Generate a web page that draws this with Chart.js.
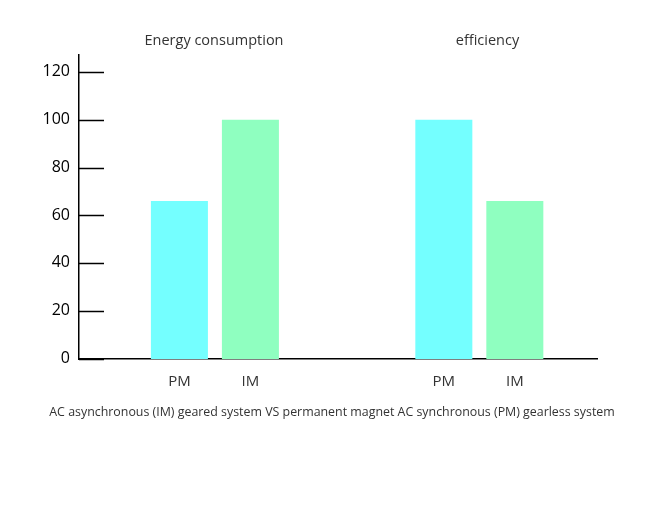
<!DOCTYPE html>
<html>
<head>
<meta charset="utf-8">
<script src="https://cdn.jsdelivr.net/npm/chart.js@4"></script>
<style>
html,body{margin:0;padding:0;background:#fff;}
canvas{display:block;}
</style>
</head>
<body>
<canvas id="c" width="650" height="507"></canvas>
<script>
const categories = ["Energy consumption", "efficiency"];
const seriesNames = ["PM", "IM"];
const pmValues = [66, 100];
const imValues = [100, 66];
const yTicks = [0, 20, 40, 60, 80, 100, 120];
const caption = "AC asynchronous (IM) geared system VS permanent magnet AC synchronous (PM) gearless system";

const FONT = "'Open Sans', 'Noto Sans', sans-serif";

const tickMarks = {
  id: 'tickMarks',
  afterDraw(chart) {
    const ctx = chart.ctx;
    const y = chart.scales.y;
    const area = chart.chartArea;
    ctx.save();
    ctx.strokeStyle = '#000';
    ctx.lineWidth = 1.5;
    y.ticks.forEach(t => {
      const py = Math.round(y.getPixelForValue(t.value)) + 0.5;
      ctx.beginPath();
      ctx.moveTo(area.left, py);
      ctx.lineTo(area.left + 25, py);
      ctx.stroke();
    });
    ctx.fillStyle = '#333';
    ctx.font = "15px " + FONT;
    ctx.textAlign = 'center';
    ctx.textBaseline = 'middle';
    chart.data.datasets.forEach((ds, di) => {
      chart.getDatasetMeta(di).data.forEach(bar => {
        ctx.fillText(ds.label, bar.x, area.bottom + 23);
      });
    });
    ctx.restore();
  }
};

new Chart(document.getElementById('c'), {
  type: 'bar',
  data: {
    datasets: [
      { label: seriesNames[0], data: categories.map((c, i) => ({x: i, y: pmValues[i]})), backgroundColor: '#74FFFF', xAxisID: 'x' },
      { label: seriesNames[1], data: categories.map((c, i) => ({x: i, y: imValues[i]})), backgroundColor: '#8FFFC0', xAxisID: 'x' }
    ]
  },
  options: {
    responsive: false,
    animation: false,
    devicePixelRatio: 1,
    categoryPercentage: 0.537,
    barPercentage: 0.803,
    layout: { padding: { left: 14, right: 0, top: 0, bottom: 87 } },
    plugins: {
      legend: { display: false },
      tooltip: { enabled: false },
      title: {
        display: true,
        position: 'bottom',
        text: caption,
        color: '#333',
        font: { family: FONT, size: 12.4, weight: 'normal' },
        padding: { top: 6, bottom: 0 }
      }
    },
    scales: {
      x: {
        type: 'linear',
        position: 'bottom',
        offset: false,
        min: -0.514,
        max: 1.445,
        afterBuildTicks: s => { s.ticks = categories.map((c, i) => ({ value: i })); },
        afterFit: s => { s.height = 40; },
        ticks: { display: false },
        grid: { display: false, drawTicks: false, offset: false },
        border: { display: true, color: '#000', width: 1.5 }
      },
      xt: {
        type: 'linear',
        position: 'top',
        offset: false,
        min: -0.4936,
        max: 1.4004,
        afterBuildTicks: s => { s.ticks = categories.map((c, i) => ({ value: i })); },
        afterFit: s => { s.height = 55; },
        ticks: {
          padding: 5,
          color: '#333',
          font: { family: FONT, size: 14.5 },
          maxRotation: 0,
          autoSkip: false,
          callback: v => categories[v]
        },
        grid: { display: false, drawTicks: false, offset: false },
        border: { display: false }
      },
      y: {
        min: 0,
        max: 127,
        afterBuildTicks: s => { s.ticks = yTicks.map(v => ({ value: v })); },
        afterFit: s => { s.width = 65; },
        ticks: {
          padding: 9,
          labelOffset: -0.5,
          color: '#000',
          font: { family: FONT, size: 16 }
        },
        grid: { display: false, drawTicks: false },
        border: { display: true, color: '#000', width: 1.5 }
      },
      yr: {
        type: 'linear',
        position: 'right',
        afterFit: s => { s.width = 53; },
        ticks: { display: false },
        grid: { display: false, drawTicks: false },
        border: { display: false }
      }
    }
  },
  plugins: [tickMarks]
});
</script>
</body>
</html>
